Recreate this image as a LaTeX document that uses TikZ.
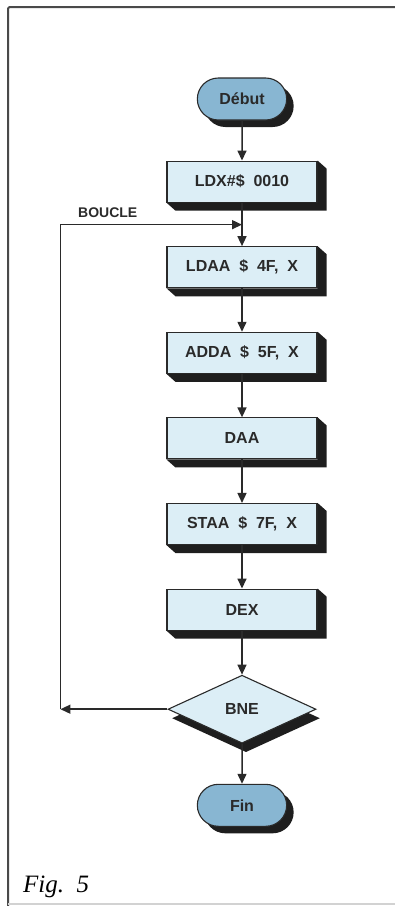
\documentclass[tikz,border=0pt]{standalone}
\usepackage{fontspec}
\setmainfont{Liberation Serif}
\setsansfont{Liberation Sans}
\usepackage{tikz}
\usetikzlibrary{positioning,arrows.meta,shapes.geometric,shapes.misc,shadows}

\definecolor{boxfill}{HTML}{DCEEF6}
\definecolor{termfill}{HTML}{88B6D2}
\definecolor{shadowcol}{HTML}{1E1E1E}
\definecolor{inkcol}{HTML}{2A2A2A}

\begin{document}
\begin{tikzpicture}[
		x=1pt, y=1pt,
		node distance=43.5pt,
		instr/.style={
			draw=inkcol,
			line width=1.1pt,
			fill=boxfill,
			minimum width=150pt,
			minimum height=41pt,
			inner sep=0pt,
			text=inkcol,
			font=\sffamily\bfseries\fontsize{16}{18}\selectfont
		},
		terminal/.style={
			rounded rectangle,
			draw=inkcol,
			line width=1.1pt,
			fill=termfill,
			minimum width=96pt,
			minimum height=42pt,
			text=inkcol,
			font=\sffamily\bfseries\fontsize{16}{18}\selectfont,
			drop shadow={shadow xshift=7pt, shadow yshift=-7pt, fill=shadowcol, opacity=1}
		},
		decision/.style={
			diamond,
			aspect=2.2,
			draw=inkcol,
			line width=1.1pt,
			fill=boxfill,
			minimum width=148pt,
			minimum height=68pt,
			inner sep=0pt,
			text=inkcol,
			font=\sffamily\bfseries\fontsize{16}{18}\selectfont,
			drop shadow={shadow xshift=4pt, shadow yshift=-9pt, fill=shadowcol, opacity=1}
		},
		note/.style={font=\sffamily\bfseries\fontsize{14}{16}\selectfont, text=inkcol, inner sep=0pt},
		figcap/.style={font=\rmfamily\itshape\fontsize{25}{28}\selectfont, inner sep=0pt},
		arrow/.style={-{Triangle[length=10pt, width=9pt]}, line width=1.5pt, draw=inkcol}
		]
		
		\useasboundingbox (0,0) rectangle (395,-906);
		
		% frame of the figure
		\draw[inkcol!85, line width=2pt, rounded corners=1.5pt] (395,-7) -- (8,-7) -- (8,-906);
		\draw[gray!35, line width=1.2pt] (8,-904) -- (395,-904);
		
		% Start
		\node[terminal] (debut) at (242,-99) {Début};
		
		% Program steps
		\node[instr, below=40pt of debut] (ldx) {LDX\#\$\ \ 0010};
		\node[instr, below=of ldx] (ldaa) {LDAA \ \$ \ 4F, \ X};
		\node[instr, below=of ldaa] (adda) {ADDA \ \$ \ 5F, \ X};
		\node[instr, below=of adda] (daa) {DAA};
		\node[instr, below=of daa] (staa) {STAA \ \$ \ 7F, \ X};
		\node[instr, below=of staa] (dex) {DEX};
		
		% Test
		\node[decision, below=44pt of dex] (bne) {BNE};
		
		% End
		\node[terminal, below=40pt of bne] (fin) {Fin};
		
		% 3D edges of the boxes
		\foreach \n in {ldx,ldaa,adda,daa,staa,dex}
		\fill[shadowcol] (\n.north east) -- ++(9,-8) -- ([shift={(9,-8)}]\n.south east)
		-- ([shift={(9,-8)}]\n.south west) -- (\n.south west) -- (\n.south east) -- cycle;
		
		% Arrows
		\draw[arrow] (debut) -- (ldx);
		\draw[arrow] (ldx) -- (ldaa);
		\draw[arrow] (ldaa) -- (adda);
		\draw[arrow] (adda) -- (daa);
		\draw[arrow] (daa) -- (staa);
		\draw[arrow] (staa) -- (dex);
		\draw[arrow] (dex) -- (bne);
		\draw[arrow] (bne) -- (fin);
		
		% Loop back
		\coordinate (loopcorner) at ([xshift=-107pt]bne.west);
		\coordinate (loopin) at ([yshift=-22pt]ldx.south);
		\draw[arrow] (bne.west) -- (loopcorner);
		\draw[arrow] (loopcorner) |- (loopin);
		\node[note, anchor=base west] (boucle) at (78,-217) {BOUCLE};
		
		% Caption
		\node[figcap, anchor=base west] (figlabel) at (23,-892) {Fig.~~5};
		
	\end{tikzpicture}
\end{document}
